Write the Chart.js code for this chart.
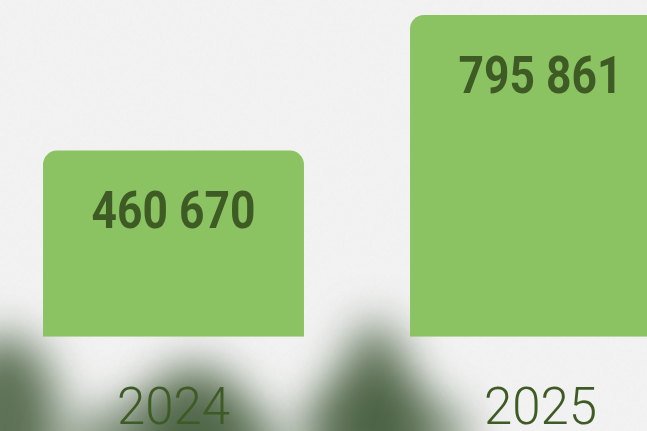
<!DOCTYPE html>
<html>
<head>
<meta charset="utf-8">
<script src="https://cdn.jsdelivr.net/npm/chart.js@4.4.1/dist/chart.umd.min.js"></script>
<style>
    html, body {
        margin: 0;
        padding: 0;
        width: 647px;
        height: 431px;
        overflow: hidden;
        background: #f3f3f3;
    }
    #stage {
        position: relative;
        width: 647px;
        height: 431px;
        overflow: hidden;
    }
    .shade {
        position: absolute;
        border-radius: 50%;
        filter: blur(22px);
    }
    #grain {
        position: absolute;
        left: 0; top: 0;
        width: 647px; height: 431px;
        opacity: 0.5;
    }
    #chartBox {
        position: absolute;
        left: -10px;
        top: 0;
        width: 734px;
        height: 486px;
    }
</style>
</head>
<body>
<div id="stage">
    <svg id="grain" width="647" height="431">
        <filter id="n"><feTurbulence type="fractalNoise" baseFrequency="0.3" numOctaves="2" seed="4"/><feColorMatrix values="0 0 0 0 0.82  0 0 0 0 0.82  0 0 0 0 0.82  0 0 0 0.7 0"/></filter>
        <rect width="647" height="431" filter="url(#n)"/>
    </svg>
    <!-- blurred foliage shadows along the bottom -->
    <div class="shade" style="left:-50px; top:335px; width:110px; height:190px; background:rgba(66,90,58,0.85);"></div>
    <div class="shade" style="left:140px; top:365px; width:110px; height:130px; background:rgba(66,90,58,0.8);"></div>
    <div class="shade" style="left:60px; top:400px; width:230px; height:90px; background:rgba(66,90,58,0.65);"></div>
    <div class="shade" style="left:340px; top:322px; width:70px; height:170px; background:rgba(66,90,58,0.8);"></div>
    <div class="shade" style="left:300px; top:375px; width:145px; height:120px; background:rgba(66,90,58,0.75);"></div>
    <div class="shade" style="left:415px; top:405px; width:60px; height:70px; background:rgba(66,90,58,0.4);"></div>
    <div id="chartBox"><canvas id="salesChart"></canvas></div>
</div>

<script>
// chart data
const years = ['2024', '2025'];
const totals = [460670, 795861];

const barGreen = '#8bc363';
const darkGreen = '#3f5b25';

// numbers printed inside the top of each bar
const barValueLabels = {
    id: 'barValueLabels',
    afterDatasetsDraw(chart) {
        const ctx = chart.ctx;
        const meta = chart.getDatasetMeta(0);
        meta.data.forEach(function(bar, i) {
            const txt = String(totals[i]).replace(/\B(?=(\d{3})+(?!\d))/g, ' ');
            ctx.save();
            ctx.fillStyle = darkGreen;
            ctx.font = 'bold 51px Roboto';
            ctx.textAlign = 'center';
            ctx.textBaseline = 'middle';
            ctx.translate(bar.x, bar.y + 65);
            ctx.scale(0.87, 1);   // squeeze to look like the condensed face
            ctx.fillText(txt, 0, 0);
            ctx.restore();
        });
    }
};

document.addEventListener('DOMContentLoaded', function() {
    const ctx = document.getElementById('salesChart');
    new Chart(ctx, {
        type: 'bar',
        data: {
            labels: years,
            datasets: [{
                data: totals,
                backgroundColor: barGreen,
                borderRadius: 14,
                borderSkipped: 'start',
                categoryPercentage: 1,
                barPercentage: 0.711
            }]
        },
        options: {
            responsive: true,
            maintainAspectRatio: false,
            animation: false,
            layout: { padding: 0 },
            plugins: {
                legend: { display: false },
                tooltip: { enabled: false }
            },
            scales: {
                y: {
                    display: false,
                    min: 0,
                    max: 833000
                },
                x: {
                    grid: { display: false, drawTicks: false },
                    border: { display: false },
                    ticks: {
                        color: darkGreen,
                        padding: 44,
                        font: { family: 'Roboto', weight: 300, size: 51 }
                    }
                }
            }
        },
        plugins: [barValueLabels]
    });
});
</script>
</body>
</html>
